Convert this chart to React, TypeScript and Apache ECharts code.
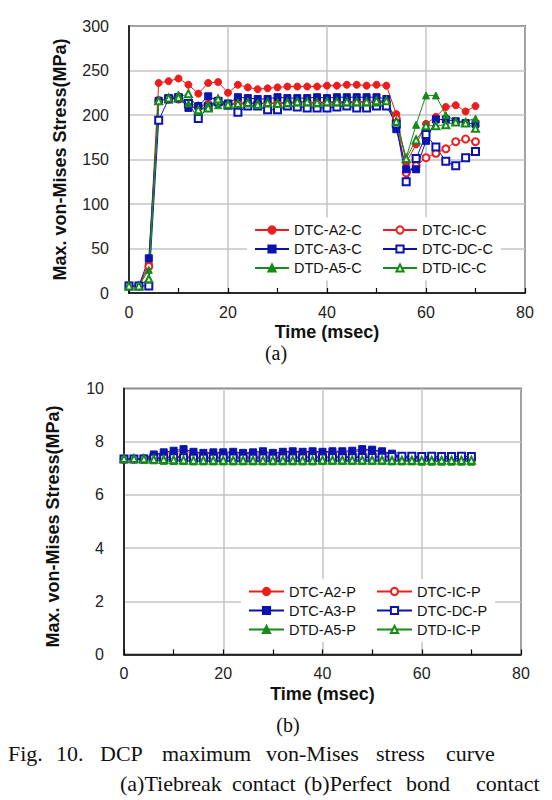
import React, { useEffect, useRef } from 'react';
import * as echarts from 'echarts';

// Time (msec)
const TIME = [0, 2, 4, 6, 8, 10, 12, 14, 16, 18, 20, 22, 24, 26, 28, 30, 32, 34, 36, 38, 40, 42, 44, 46, 48, 50, 52, 54, 56, 58, 60, 62, 64, 66, 68, 70];

// (a) Tiebreak contact (MPa)
const DTC_A2_C = [8, 8, 33, 236, 238, 241, 234, 224, 236, 237, 225, 234, 231, 229, 230, 231, 232, 232, 232, 232, 233, 233, 234, 234, 233, 234, 233, 201, 146, 167, 190, 198, 209, 211, 204, 210];
const DTC_IC_C = [8, 8, 30, 216, 218, 218, 213, 210, 212, 213, 212, 213, 213, 213, 213, 213, 214, 214, 214, 214, 214, 214, 214, 214, 214, 214, 214, 196, 135, 143, 152, 157, 162, 170, 173, 170];
const DTC_A3_C = [8, 8, 39, 216, 219, 220, 208, 210, 221, 216, 213, 220, 219, 218, 218, 220, 219, 219, 219, 220, 219, 220, 220, 220, 220, 220, 218, 184, 139, 139, 171, 195, 195, 193, 191, 190];
const DTC_DC_C = [8, 8, 8, 194, 218, 219, 213, 196, 209, 215, 211, 203, 210, 210, 206, 206, 210, 209, 208, 208, 208, 209, 210, 208, 208, 210, 210, 190, 125, 151, 178, 164, 148, 143, 152, 159];
const DTD_A5_C = [8, 8, 26, 216, 219, 223, 213, 204, 212, 211, 212, 212, 213, 213, 213, 213, 213, 214, 214, 213, 214, 214, 214, 214, 214, 214, 216, 192, 152, 189, 222, 222, 200, 193, 193, 196];
const DTD_IC_C = [8, 8, 16, 216, 219, 220, 224, 206, 208, 218, 212, 213, 214, 212, 214, 213, 214, 215, 215, 214, 215, 215, 215, 215, 215, 216, 216, 193, 151, 172, 188, 188, 189, 192, 191, 185];

// (b) Perfect bond contact (MPa)
const DTC_A2_P = [7.35, 7.35, 7.36, 7.48, 7.56, 7.6, 7.64, 7.58, 7.55, 7.56, 7.56, 7.58, 7.55, 7.56, 7.6, 7.55, 7.58, 7.6, 7.58, 7.6, 7.58, 7.6, 7.6, 7.62, 7.66, 7.65, 7.6, 7.52, 7.4, 7.38, 7.38, 7.36, 7.36, 7.36, 7.34, 7.34];
const DTC_IC_P = [7.35, 7.35, 7.35, 7.4, 7.42, 7.44, 7.45, 7.42, 7.42, 7.42, 7.43, 7.43, 7.42, 7.42, 7.43, 7.42, 7.43, 7.43, 7.43, 7.44, 7.43, 7.44, 7.44, 7.44, 7.45, 7.45, 7.44, 7.42, 7.4, 7.4, 7.4, 7.38, 7.38, 7.38, 7.38, 7.38];
const DTC_A3_P = [7.35, 7.35, 7.36, 7.52, 7.6, 7.66, 7.72, 7.62, 7.58, 7.6, 7.6, 7.62, 7.58, 7.6, 7.64, 7.58, 7.62, 7.64, 7.62, 7.64, 7.62, 7.64, 7.64, 7.66, 7.72, 7.7, 7.64, 7.55, 7.42, 7.4, 7.4, 7.38, 7.38, 7.38, 7.36, 7.36];
const DTC_DC_P = [7.35, 7.35, 7.35, 7.38, 7.38, 7.4, 7.4, 7.38, 7.38, 7.38, 7.39, 7.39, 7.38, 7.38, 7.39, 7.38, 7.39, 7.39, 7.39, 7.4, 7.39, 7.4, 7.4, 7.4, 7.41, 7.41, 7.42, 7.44, 7.45, 7.45, 7.44, 7.45, 7.44, 7.44, 7.45, 7.44];
const DTD_A5_P = [7.34, 7.34, 7.32, 7.3, 7.28, 7.27, 7.27, 7.26, 7.26, 7.26, 7.26, 7.26, 7.26, 7.26, 7.26, 7.26, 7.26, 7.26, 7.26, 7.26, 7.27, 7.27, 7.27, 7.27, 7.27, 7.27, 7.27, 7.26, 7.26, 7.26, 7.25, 7.25, 7.25, 7.25, 7.25, 7.25];
const DTD_IC_P = [7.37, 7.37, 7.36, 7.34, 7.33, 7.32, 7.31, 7.3, 7.3, 7.3, 7.3, 7.3, 7.3, 7.3, 7.3, 7.3, 7.3, 7.3, 7.3, 7.3, 7.31, 7.31, 7.31, 7.31, 7.31, 7.31, 7.31, 7.3, 7.3, 7.3, 7.3, 7.3, 7.3, 7.3, 7.3, 7.3];

const X_TITLE = 'Time (msec)';
const Y_TITLE = 'Max. von-Mises Stress(MPa)';

const CAPTION_LINE1 = [
  { w: 'Fig.', x: 8 },
  { w: '10.', x: 56 },
  { w: 'DCP', x: 100 },
  { w: 'maximum', x: 162 },
  { w: 'von-Mises', x: 266 },
  { w: 'stress', x: 376 },
  { w: 'curve', x: 446 },
];
const CAPTION_LINE2 = [
  { w: '(a)Tiebreak', x: 120 },
  { w: 'contact', x: 232 },
  { w: '(b)Perfect', x: 304 },
  { w: 'bond', x: 406 },
  { w: 'contact', x: 476 },
];

const RED = '#ee1c1c';
const BLUE = '#0a12b0';
const GREEN = '#158a15';
const SANS = '"Liberation Sans", Arial, sans-serif';
const SERIF = '"Liberation Serif", "Times New Roman", serif';

function mk(name: string, vals: number[], color: string, symbol: string, idx: number) {
  return {
    name,
    type: 'line',
    xAxisIndex: idx,
    yAxisIndex: idx,
    data: TIME.map((t, i) => [t, vals[i]]),
    symbol,
    symbolSize: 7,
    showAllSymbol: true,
    itemStyle: { color, borderColor: color, borderWidth: 1 },
    lineStyle: { color, width: 1 },
    emphasis: { disabled: true },
  };
}

function xAxisCfg(idx: number) {
  return {
    type: 'value',
    gridIndex: idx,
    min: 0,
    max: 80,
    interval: 20,
    name: X_TITLE,
    nameLocation: 'middle',
    nameGap: 30,
    nameTextStyle: { fontFamily: SANS, fontSize: 18, fontWeight: 'bold', color: '#111' },
    axisLine: { show: true, onZero: false, lineStyle: { color: '#000', width: 1.5 } },
    axisTick: { show: true, inside: true, length: 5, lineStyle: { color: '#000', width: 1.2 } },
    minorTick: { show: true, splitNumber: 2, length: 5, lineStyle: { color: '#000', width: 1.2 } },
    splitLine: { show: true, lineStyle: { color: '#c4c4c4', width: 1.5 } },
    axisLabel: { fontFamily: SANS, fontSize: 16, color: '#222', margin: 11 },
  };
}

function yAxisCfg(idx: number, max: number, interval: number, gap: number, pad: number[]) {
  return {
    type: 'value',
    gridIndex: idx,
    min: 0,
    max,
    interval,
    name: Y_TITLE,
    nameLocation: 'middle',
    nameRotate: 90,
    nameGap: gap,
    nameTextStyle: { fontFamily: SANS, fontSize: 18, fontWeight: 'bold', color: '#111', padding: pad },
    axisLine: { show: true, lineStyle: { color: '#000', width: 1.5 } },
    axisTick: { show: false },
    splitLine: { show: true, lineStyle: { color: '#c4c4c4', width: 1.5 } },
    axisLabel: { fontFamily: SANS, fontSize: 16, color: '#222', margin: 20 },
  };
}

function legendCfg(names: string[], left: number, top: number, padding: number[], itemWidth: number) {
  return {
    data: names,
    orient: 'vertical',
    left,
    top,
    itemWidth,
    itemHeight: 9,
    itemGap: 0,
    padding,
    backgroundColor: '#fff',
    selectedMode: false,
    textStyle: { fontFamily: SANS, fontSize: 14.5, lineHeight: 19, color: '#111' },
  };
}

export default function App() {
  const ref = useRef<HTMLDivElement>(null);
  useEffect(() => {
    if (!ref.current) return;
    const chart = echarts.init(ref.current, undefined, { renderer: 'svg' });
    const graphic: any[] = [
      { type: 'text', x: 276, y: 353, style: { text: '(a)', font: `20px ${SERIF}`, fill: '#111', textAlign: 'center', textVerticalAlign: 'middle' } },
      { type: 'text', x: 288, y: 725, style: { text: '(b)', font: `20px ${SERIF}`, fill: '#111', textAlign: 'center', textVerticalAlign: 'middle' } },
    ];
    CAPTION_LINE1.forEach((c) =>
      graphic.push({ type: 'text', x: c.x, y: 753, style: { text: c.w, font: `22px ${SERIF}`, fill: '#111', textAlign: 'left', textVerticalAlign: 'middle' } })
    );
    CAPTION_LINE2.forEach((c) =>
      graphic.push({ type: 'text', x: c.x, y: 783, style: { text: c.w, font: `22px ${SERIF}`, fill: '#111', textAlign: 'left', textVerticalAlign: 'middle' } })
    );
    chart.setOption({
      animation: false,
      backgroundColor: '#fff',
      grid: [
        { left: 129, top: 26, width: 396, height: 267, show: true, borderColor: '#000', borderWidth: 1.5, backgroundColor: 'transparent' },
        { left: 124, top: 388.5, width: 397, height: 266, show: true, borderColor: '#000', borderWidth: 1.5, backgroundColor: 'transparent' },
      ],
      xAxis: [xAxisCfg(0), xAxisCfg(1)],
      yAxis: [yAxisCfg(0, 300, 50, 60, [0, 0, 0, 0]), yAxisCfg(1, 10, 2, 62, [0, 10, 0, 0])],
      legend: [
        legendCfg(['DTC-A2-C', 'DTC-A3-C', 'DTD-A5-C'], 247, 217.5, [3, 20, 3, 7], 34),
        legendCfg(['DTC-IC-C', 'DTC-DC-C', 'DTD-IC-C'], 382, 217.5, [3, 8, 3, 0], 34),
        legendCfg(['DTC-A2-P', 'DTC-A3-P', 'DTD-A5-P'], 241, 579, [3, 20, 3, 7], 35),
        legendCfg(['DTC-IC-P', 'DTC-DC-P', 'DTD-IC-P'], 376, 579, [3, 8, 3, 0], 35),
      ],
      series: [
        mk('DTC-A2-C', DTC_A2_C, RED, 'circle', 0),
        mk('DTC-IC-C', DTC_IC_C, RED, 'emptyCircle', 0),
        mk('DTC-A3-C', DTC_A3_C, BLUE, 'rect', 0),
        mk('DTC-DC-C', DTC_DC_C, BLUE, 'emptyRect', 0),
        mk('DTD-A5-C', DTD_A5_C, GREEN, 'triangle', 0),
        mk('DTD-IC-C', DTD_IC_C, GREEN, 'emptyTriangle', 0),
        mk('DTC-A2-P', DTC_A2_P, RED, 'circle', 1),
        mk('DTC-IC-P', DTC_IC_P, RED, 'emptyCircle', 1),
        mk('DTC-A3-P', DTC_A3_P, BLUE, 'rect', 1),
        mk('DTC-DC-P', DTC_DC_P, BLUE, 'emptyRect', 1),
        mk('DTD-A5-P', DTD_A5_P, GREEN, 'triangle', 1),
        mk('DTD-IC-P', DTD_IC_P, GREEN, 'emptyTriangle', 1),
      ],
      graphic,
    });
    return () => chart.dispose();
  }, []);
  return (
    <div
      ref={ref}
      style={{ position: 'fixed', left: 0, top: 0, width: 552, height: 800, background: '#fff' }}
    />
  );
}
